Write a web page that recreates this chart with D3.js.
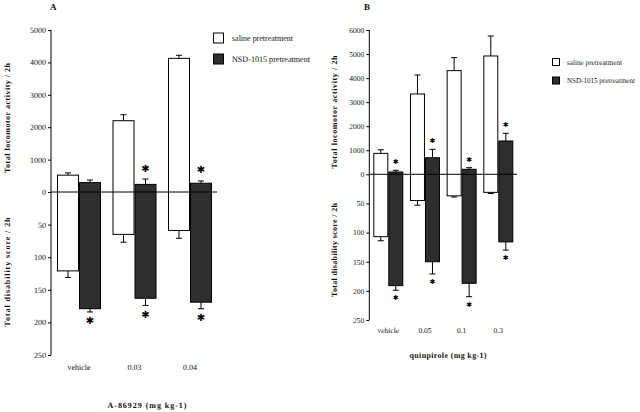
<!DOCTYPE html>
<html><head><meta charset="utf-8">
<script src="https://cdn.jsdelivr.net/npm/d3@7"></script>
<style>
body{margin:0;background:#fff;}
svg{display:block;-webkit-font-smoothing:antialiased;text-rendering:geometricPrecision;}
text{font-family:"Liberation Serif","Times New Roman",serif;fill:#111;}
</style></head>
<body><svg id="c" width="640" height="412"></svg>
<script>
// ---------- Data: panel A ----------
const catsA = ["vehicle", "0.03", "0.04"];
const salineLocoA = [520, 2200, 4125];
const salineLocoErrA = [70, 185, 95];
const nsdLocoA = [290, 235, 270];
const nsdLocoErrA = [80, 165, 70];
const salineDisA = [121, 65, 59];
const salineDisErrA = [10, 12, 12];
const nsdDisA = [179, 163, 169];
const nsdDisErrA = [5, 11, 10];
const sigLocoA = [false, true, true];
const sigDisA = [true, true, true];
const ticksLocoA = [0, 1000, 2000, 3000, 4000, 5000];
const ticksDisA = [50, 100, 150, 200, 250];

// ---------- Data: panel B ----------
const catsB = ["vehicle", "0.05", "0.1", "0.3"];
const salineLocoB = [870, 3340, 4310, 4920];
const salineLocoErrB = [150, 790, 540, 830];
const nsdLocoB = [96, 690, 208, 1385];
const nsdLocoErrB = [70, 350, 67, 320];
const salineDisB = [107, 45, 37, 31];
const salineDisErrB = [7, 8, 2, 2];
const nsdDisB = [191, 150, 187, 116];
const nsdDisErrB = [8, 21, 23, 14];
const sigLocoB = [true, true, true, true];
const sigDisB = [true, true, true, true];
const ticksLocoB = [0, 1000, 2000, 3000, 4000, 5000, 6000];
const ticksDisB = [50, 100, 150, 200, 250];

const seriesNames = ["saline pretreatment", "NSD-1015 pretreatment"];
const DARK = "#2e2e2e";

const svg = d3.select("#c");

function panel(cfg) {
  const g = svg.append("g");
  const x = d3.scaleBand().domain(cfg.cats).range([cfg.x0, cfg.x1])
    .paddingInner(cfg.pi).paddingOuter(cfg.po);
  const xs = d3.scaleBand().domain([0, 1]).range([0, x.bandwidth()]);
  const yU = d3.scaleLinear().domain([0, cfg.uMax]).range([cfg.y0, cfg.yTop]);
  const yL = d3.scaleLinear().domain([0, 250]).range([cfg.y0, cfg.yBot]);

  const series = [
    {loco: cfg.sLoco, locoE: cfg.sLocoE, dis: cfg.sDis, disE: cfg.sDisE, fill: "#fff"},
    {loco: cfg.nLoco, locoE: cfg.nLocoE, dis: cfg.nDis, disE: cfg.nDisE, fill: DARK}
  ];
  const cap = cfg.cap;
  series.forEach((s, si) => {
    cfg.cats.forEach((c, i) => {
      const bx = x(c) + xs(si), bw = xs.bandwidth(), cx = bx + bw / 2;
      const eTop = yU(s.loco[i] + s.locoE[i]);
      g.append("line").attr("x1", cx).attr("x2", cx).attr("y1", yU(s.loco[i])).attr("y2", eTop)
        .attr("stroke", "#000").attr("stroke-width", 1);
      g.append("line").attr("x1", cx - cap).attr("x2", cx + cap).attr("y1", eTop).attr("y2", eTop)
        .attr("stroke", "#000").attr("stroke-width", 1);
      const eBot = yL(s.dis[i] + s.disE[i]);
      g.append("line").attr("x1", cx).attr("x2", cx).attr("y1", yL(s.dis[i])).attr("y2", eBot)
        .attr("stroke", "#000").attr("stroke-width", 1);
      g.append("line").attr("x1", cx - cap).attr("x2", cx + cap).attr("y1", eBot).attr("y2", eBot)
        .attr("stroke", "#000").attr("stroke-width", 1);
      g.append("rect").attr("x", bx + 0.5).attr("width", bw - 1)
        .attr("y", yU(s.loco[i])).attr("height", yL(s.dis[i]) - yU(s.loco[i]))
        .attr("fill", s.fill).attr("stroke", "#000").attr("stroke-width", 1);
      if (si === 1) {
        if (cfg.sigLoco[i]) g.append("text").attr("x", cx).attr("y", eTop - cfg.starOff)
          .attr("text-anchor", "middle").attr("dominant-baseline", "central")
          .style("font-family", "DejaVu Sans").style("font-size", cfg.starSize + "px").style("fill", "#000").text("✱");
        if (cfg.sigDis[i]) g.append("text").attr("x", cx).attr("y", eBot + cfg.starOff)
          .attr("text-anchor", "middle").attr("dominant-baseline", "central")
          .style("font-family", "DejaVu Sans").style("font-size", cfg.starSize + "px").style("fill", "#000").text("✱");
      }
    });
  });

  g.append("line").attr("x1", cfg.x0).attr("x2", cfg.zeroEnd).attr("y1", cfg.y0).attr("y2", cfg.y0)
    .attr("stroke", "#000").attr("stroke-width", 1);

  const axU = g.append("g").attr("transform", `translate(${cfg.x0},0)`)
    .call(d3.axisLeft(yU).tickValues(cfg.ticksU).tickSize(3).tickPadding(2).tickFormat(d3.format("d")));
  const axL = g.append("g").attr("transform", `translate(${cfg.x0},0)`)
    .call(d3.axisLeft(yL).tickValues(cfg.ticksL).tickSize(3).tickPadding(2).tickFormat(d3.format("d")));
  [axU, axL].forEach(a => {
    a.select(".domain").remove();
    a.selectAll("text").style("font-family", "Liberation Serif").style("font-size", cfg.tickFs + "px").attr("fill", "#222");
  });
  g.append("line").attr("x1", cfg.x0).attr("x2", cfg.x0).attr("y1", cfg.yTop).attr("y2", cfg.yBot)
    .attr("stroke", "#000").attr("stroke-width", 1);

  cfg.cats.forEach(c => {
    g.append("text").attr("x", x(c) + x.bandwidth() / 2).attr("y", cfg.catY)
      .attr("text-anchor", "middle").style("font-size", cfg.tickFs + "px").text(c);
  });

  g.append("text").attr("x", cfg.xTitleX).attr("y", cfg.xTitleY).attr("text-anchor", "middle")
    .attr("textLength", cfg.xTitleLen).attr("lengthAdjust", "spacing")
    .style("font-size", "8px").style("font-weight", "bold").text(cfg.xTitle);
  g.append("text").attr("transform", `translate(${cfg.yTitleX},${cfg.yUTitleC}) rotate(-90)`)
    .attr("text-anchor", "middle").attr("textLength", cfg.yULen).attr("lengthAdjust", "spacing")
    .style("font-size", "8px").style("font-weight", "bold").text("Total locomotor activity / 2h");
  g.append("text").attr("transform", `translate(${cfg.yTitleX},${cfg.yLTitleC}) rotate(-90)`)
    .attr("text-anchor", "middle").attr("textLength", cfg.yLLen).attr("lengthAdjust", "spacing")
    .style("font-size", "8px").style("font-weight", "bold").text("Total disability score / 2h");
  g.append("text").attr("x", cfg.letterX).attr("y", 10).style("font-size", "9px")
    .style("font-weight", "bold").text(cfg.letter);

  seriesNames.forEach((n, i) => {
    const ly = cfg.legY + i * cfg.legGap;
    g.append("rect").attr("x", cfg.legX + 0.5).attr("y", ly - cfg.legSq / 2 + 0.5)
      .attr("width", cfg.legSq - 1).attr("height", cfg.legSq - 1)
      .attr("fill", i ? DARK : "#fff").attr("stroke", "#000").attr("stroke-width", 1);
    g.append("text").attr("x", cfg.legTX).attr("y", ly).attr("dominant-baseline", "central")
      .attr("textLength", cfg.legLens[i]).attr("lengthAdjust", "spacingAndGlyphs")
      .style("font-size", cfg.legFs + "px").text(n);
  });
}

panel({
  cats: catsA, x0: 51, x1: 218, pi: 0.207, po: 0.108, zeroEnd: 217,
  uMax: 5000, y0: 192, yTop: 30, yBot: 355,
  sLoco: salineLocoA, sLocoE: salineLocoErrA, sDis: salineDisA, sDisE: salineDisErrA,
  nLoco: nsdLocoA, nLocoE: nsdLocoErrA, nDis: nsdDisA, nDisE: nsdDisErrA,
  sigLoco: sigLocoA, sigDis: sigDisA, ticksU: ticksLocoA, ticksL: ticksDisA,
  cap: 3, starOff: 10, starSize: 10, tickFs: 8, catY: 370,
  xTitle: "A-86929  (mg  kg-1)", xTitleX: 147, xTitleY: 408, xTitleLen: 79,
  yTitleX: 10, yUTitleC: 118, yULen: 110, yLTitleC: 272, yLLen: 109,
  letter: "A", letterX: 50,
  legX: 213, legY: 38, legGap: 21, legSq: 11, legTX: 232, legLens: [61, 78], legFs: 8.5
});

panel({
  cats: catsB, x0: 369.3, x1: 517.3, pi: 0.182, po: 0.109, zeroEnd: 517,
  uMax: 6000, y0: 174.3, yTop: 30, yBot: 320,
  sLoco: salineLocoB, sLocoE: salineLocoErrB, sDis: salineDisB, sDisE: salineDisErrB,
  nLoco: nsdLocoB, nLocoE: nsdLocoErrB, nDis: nsdDisB, nDisE: nsdDisErrB,
  sigLoco: sigLocoB, sigDis: sigDisB, ticksU: ticksLocoB, ticksL: ticksDisB,
  cap: 3, starOff: 8, starSize: 7, tickFs: 7.5, catY: 333,
  xTitle: "quinpirole  (mg  kg-1)", xTitleX: 448, xTitleY: 358, xTitleLen: 77,
  yTitleX: 337, yUTitleC: 112, yULen: 113, yLTitleC: 250, yLLen: 94,
  letter: "B", letterX: 364,
  legX: 552, legY: 62, legGap: 18.5, legSq: 8, legTX: 567, legLens: [55, 68], legFs: 7.5
});
</script></body></html>
